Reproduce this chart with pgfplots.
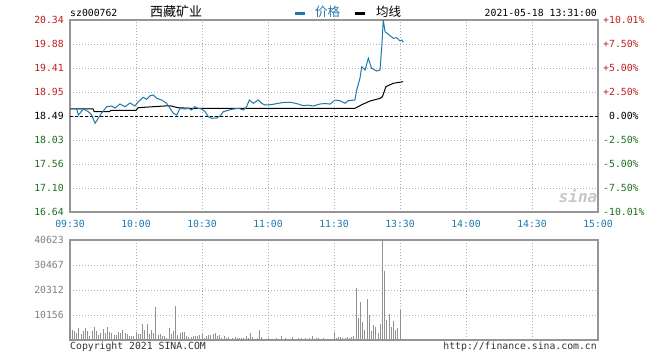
\documentclass[border=0pt]{standalone}
\usepackage{pgfplots}
\pgfplotsset{compat=1.18}
\usepackage{fontspec}
\setmainfont{DejaVu Sans Mono}
\newfontfamily\cjk{Noto Sans CJK SC}
\definecolor{pblue}{RGB}{30,120,170}
\definecolor{lred}{RGB}{190,30,30}
\definecolor{lgreen}{RGB}{30,110,30}
\definecolor{fgray}{RGB}{150,150,150}
\definecolor{ggray}{RGB}{175,175,175}
\definecolor{vgray}{RGB}{145,145,145}
\definecolor{tgray}{RGB}{128,128,128}
\begin{document}
\begin{tikzpicture}[x=1pt,y=1pt]
\useasboundingbox (0,0) rectangle (660,360);
% ---------- price panel ----------
\begin{axis}[
  at={(70pt,148pt)}, anchor=south west, scale only axis,
  width=528pt, height=192pt,
  xmin=0, xmax=240, ymin=16.64, ymax=20.34,
  xtick={0,30,...,240},
  xticklabels={09:30,10:00,10:30,11:00,11:30,13:30,14:00,14:30,15:00},
  ytick={16.64,17.1025,17.565,18.0275,18.49,18.9525,19.415,19.8775,20.34},
  yticklabels={\textcolor{lgreen}{16.64},\textcolor{lgreen}{17.10},\textcolor{lgreen}{17.56},\textcolor{lgreen}{18.03},\textcolor{black}{18.49},\textcolor{lred}{18.95},\textcolor{lred}{19.41},\textcolor{lred}{19.88},\textcolor{lred}{20.34}},
  grid=major, grid style={ggray, line width=0.8pt, dash pattern=on 1pt off 2pt},
  major tick length=0,
  axis line style={fgray, line width=1.2pt},
  tick label style={font=\fontsize{9.8}{10}\selectfont},
  xticklabel style={text=pblue, anchor=north, inner sep=0pt, yshift=-8pt},
  yticklabel style={anchor=east, inner sep=0pt, xshift=-6pt},
]
\addplot[black, line width=0.9pt, dash pattern=on 3pt off 2pt] coordinates {(0,18.49) (240,18.49)};
% average line
\addplot[black, line width=1pt] coordinates {
(0,18.625) (10.5,18.625) (11,18.573) (18,18.573) (18.5,18.60) (30,18.60) (31,18.65) (38,18.67) (43,18.683) (46,18.683) (49,18.65) (55,18.638) (129.5,18.638) (133,18.715) (136.4,18.779) (141,18.831) (142,18.862) (143.6,19.055) (146.9,19.12) (151.4,19.151)
};
% price line
\addplot[pblue, line width=1pt] coordinates {
(0,18.631) (3,18.631) (3.8,18.509) (6.1,18.625) (8.3,18.573) (9.8,18.509) (11.4,18.349) (12.9,18.451) (14.4,18.548) (16.7,18.669) (18.9,18.683) (20.5,18.644) (22.7,18.721) (25,18.669) (27.3,18.741) (29.5,18.683) (31.1,18.766) (33.3,18.850) (34.8,18.812) (36.4,18.881) (37.9,18.895) (39.4,18.831) (41.7,18.798) (43.9,18.735) (45.5,18.638) (47,18.542) (48.5,18.509) (50,18.638) (52.3,18.625) (53.8,18.638) (55.3,18.606) (56.8,18.669) (58.3,18.638) (59.8,18.625) (61.4,18.573) (62.9,18.477) (64.4,18.446) (66.7,18.451) (68.2,18.490) (69.7,18.573) (71.2,18.592) (73.5,18.619) (76.5,18.638) (78.8,18.606) (80.3,18.669) (81.5,18.798) (83.3,18.735) (85.6,18.798) (87.1,18.735) (88.6,18.702) (91.7,18.71) (94.7,18.735) (97.7,18.754) (100.8,18.75) (103.8,18.72) (106,18.688) (108,18.70) (110.6,18.683) (113.6,18.721) (116,18.73) (118.2,18.72) (120.5,18.798) (122.7,18.785) (125,18.735) (126.5,18.785) (129.5,18.798) (130.3,18.991) (131.8,19.217) (132.6,19.440) (134.1,19.376) (135.6,19.602) (137.1,19.409) (139.4,19.357) (140.9,19.376) (141.7,19.825) (142.4,20.34) (143.2,20.115) (144.7,20.064) (147,19.987) (148.5,19.999) (150,19.935) (150.8,19.955) (151.5,19.910)
};
\end{axis}
% ---------- right percent labels ----------
\begin{axis}[
  at={(70pt,148pt)}, anchor=south west, scale only axis,
  width=528pt, height=192pt,
  xmin=0, xmax=240, ymin=16.64, ymax=20.34,
  axis x line=none, axis y line=right, y axis line style={draw=none},
  yticklabel pos=right,
  ytick={16.64,17.1025,17.565,18.0275,18.49,18.9525,19.415,19.8775,20.34},
  yticklabels={\textcolor{lgreen}{-10.01\%},\textcolor{lgreen}{-7.50\%},\textcolor{lgreen}{-5.00\%},\textcolor{lgreen}{-2.50\%},\textcolor{black}{\phantom{+}0.00\%},\textcolor{lred}{+2.50\%},\textcolor{lred}{+5.00\%},\textcolor{lred}{+7.50\%},\textcolor{lred}{+10.01\%}},
  major tick length=0,
  yticklabel style={anchor=west, inner sep=0pt, xshift=5pt, font=\fontsize{9.8}{10}\selectfont},
]
\addplot[draw=none] coordinates {(0,18.49)};
\end{axis}
% ---------- volume panel ----------
\begin{axis}[
  at={(70pt,20pt)}, anchor=south west, scale only axis,
  width=528pt, height=100pt,
  xmin=0, xmax=240, ymin=0, ymax=40623,
  xtick={0,30,...,240}, xticklabels={},
  ytick={10156,20312,30467,40623},
  yticklabels={10156,20312,30467,40623},
  scaled y ticks=false,
  grid=major, grid style={ggray, line width=0.8pt, dash pattern=on 1pt off 2pt},
  major tick length=0,
  axis line style={fgray, line width=1.2pt},
  yticklabel style={anchor=east, inner sep=0pt, xshift=-6pt, text=tgray, font=\fontsize{9.8}{10}\selectfont},
]
\addplot[ycomb, vgray, line width=1pt, mark=none] coordinates {
(0,5687) (1,4062) (2,3656) (3,2722) (4,4875) (5,2316) (6,3656) (7,4875) (8,3656) (9,1625) (10,3656) (11,5281) (12,3656) (13,1909) (14,2722) (15,4590) (16,2722) (17,5281) (18,3250) (19,2722) (20,2031) (21,2031) (22,3250) (23,2722) (24,4062) (25,2722) (26,2437) (27,1625) (28,1625) (29,1625) (30,3250) (31,2437) (32,2437) (33,6500) (34,4062) (35,6500) (36,2437) (37,4062) (38,2722) (39,13406) (40,2031) (41,2437) (42,1625) (43,1625) (44,691) (45,4875) (46,2437) (47,3656) (48,13812) (49,2031) (50,2722) (51,3250) (52,3250) (53,1625)
(54,1340) (55,1097) (56,1625) (57,1625) (58,1625) (59,2031) (60,2437) (61,812) (62,1625) (63,2031) (64,2031) (65,2437) (66,2844) (67,1625) (68,2031) (69,812) (70,1625) (71,812) (72,1097) (73,528) (74,812) (75,1097) (76,812) (77,812) (78,812) (79,812) (80,1625) (81,812) (82,2844) (83,1219) (84,528) (85,812) (86,4062) (87,1097) (88,528) (89,528) (90,812) (91,284) (92,284) (93,528) (94,812) (95,528) (96,1625) (97,528) (98,812) (99,528) (100,528) (101,1219) (102,528) (103,528) (104,812)
(105,812) (106,528) (107,812) (108,528) (109,812) (110,1625) (111,528) (112,812) (113,812) (114,528) (115,812) (116,528) (117,528) (118,528) (119,528)
(120,3128) (121,812) (122,1219) (123,1219) (124,812) (125,812) (126,1219) (127,812) (128,1219) (129,1625) (130,21124) (131,8937) (132,15437) (133,7312) (134,4062) (135,16655) (136,10156) (137,3656) (138,6093) (139,5281) (140,2844) (141,6500) (142,40623) (143,28152) (144,8125) (145,10562) (146,5281) (147,7718) (148,4062) (149,4875) (150,12187) (151,406)
};
\end{axis}
% ---------- header ----------
\node[anchor=base west, inner sep=0pt, font=\fontsize{9.8}{10}\selectfont] at (70,343.5) {sz000762};
\node[anchor=center, inner sep=0pt, font=\cjk\fontsize{13}{13}\selectfont] at (176,348) {西藏矿业};
\draw[pblue, line width=3pt] (295,347) -- (305,347);
\node[anchor=west, inner sep=0pt, text=pblue, font=\cjk\fontsize{12.5}{12.5}\selectfont] at (315,348) {价格};
\draw[black, line width=3pt] (355,347) -- (365,347);
\node[anchor=west, inner sep=0pt, font=\cjk\fontsize{12.5}{12.5}\selectfont] at (376,348) {均线};
\node[anchor=base east, inner sep=0pt, font=\fontsize{9.8}{10}\selectfont] at (597,343.5) {2021-05-18 13:31:00};
% ---------- footer ----------
\node[anchor=base west, inner sep=0pt, text=black!80, font=\fontsize{9.8}{10}\selectfont] at (70,11) {Copyright 2021 SINA.COM};
\node[anchor=base east, inner sep=0pt, text=black!80, font=\fontsize{9.8}{10}\selectfont] at (597,11) {http://finance.sina.com.cn};
% watermark
\node[anchor=center, inner sep=0pt, text=black!22, font=\fontsize{16}{16}\selectfont\bfseries\itshape] at (578,164) {sina};
\end{tikzpicture}
\end{document}
